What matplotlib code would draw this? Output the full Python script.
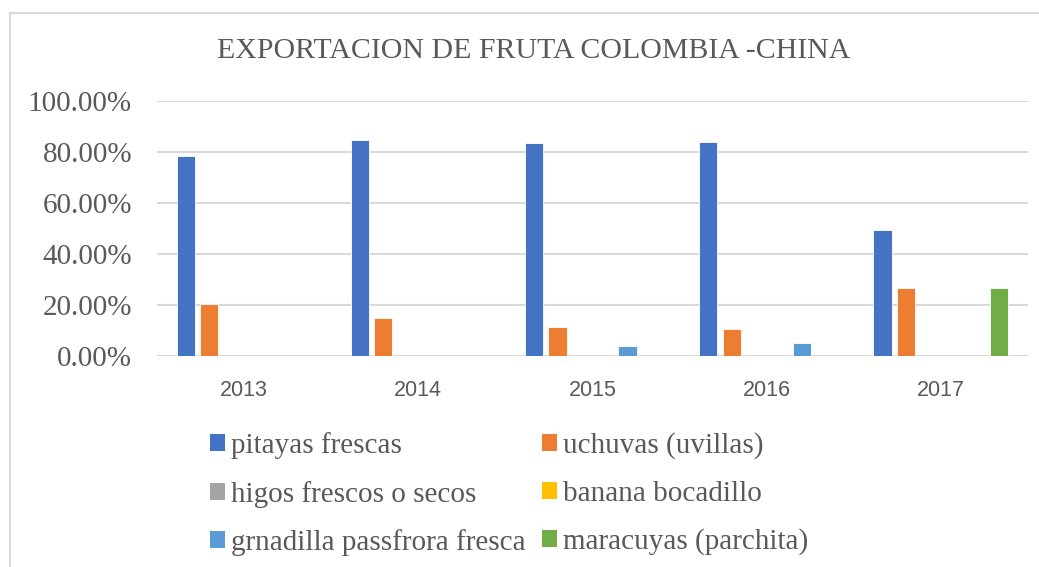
import matplotlib
matplotlib.use("Agg")
import matplotlib.pyplot as plt
from matplotlib.patches import Patch
from matplotlib.lines import Line2D
from matplotlib.ticker import FuncFormatter
import numpy as np

# datos (proporciones)
anios = ['2013', '2014', '2015', '2016', '2017']
series = ['pitayas frescas', 'uchuvas (uvillas)', 'higos frescos o secos',
          'banana bocadillo', 'grnadilla passfrora fresca', 'maracuyas (parchita)']
pitayas = [0.785, 0.847, 0.833, 0.837, 0.492]
uchuvas = [0.204, 0.149, 0.114, 0.104, 0.266]
higos = [0.0, 0.0, 0.0, 0.0, 0.0]
banana = [0.0, 0.0, 0.0, 0.0, 0.0]
granadilla = [0.0, 0.0, 0.039, 0.050, 0.0]
maracuyas = [0.0, 0.0, 0.0, 0.0, 0.266]
valores = [pitayas, uchuvas, higos, banana, granadilla, maracuyas]
colores = ['#4472C4', '#ED7D31', '#A5A5A5', '#FFC000', '#5B9BD5', '#70AD47']

gris = '#595959'
serif = 'Liberation Serif'

fig = plt.figure(figsize=(10.39, 5.67), dpi=100)
ax = fig.add_axes([157/1039, 1 - 356/567, (1028-157)/1039, (356-100.7)/567])

x = np.arange(len(anios))
paso = 0.134
ancho = 0.105
for i, (vals, col) in enumerate(zip(valores, colores)):
    ax.bar(x + (i - 2.5) * paso, vals, width=ancho, color=col,
           edgecolor='white', linewidth=0.6, zorder=3)

ax.set_xlim(-0.5, 4.5)
ax.set_ylim(0, 1.0)
ax.set_yticks(np.arange(0, 1.01, 0.2))
ax.yaxis.set_major_formatter(FuncFormatter(lambda v, p: f'{v*100:.2f}%'))
ax.grid(axis='y', color='#D9D9D9', linewidth=1.5, zorder=0)
ax.set_axisbelow(True)
for s in ax.spines.values():
    s.set_visible(False)
ax.tick_params(axis='both', length=0)
ax.tick_params(axis='y', pad=18, labelsize=21, labelcolor=gris)
ax.tick_params(axis='x', pad=17, labelsize=15.5, labelcolor=gris)
ax.set_xticks(x)
ax.set_xticklabels(anios, fontfamily='Liberation Sans')
for t in ax.get_yticklabels():
    t.set_fontfamily(serif)

fig.text(534/1039, 1 - 51/567, 'EXPORTACION DE FRUTA COLOMBIA -CHINA',
         ha='center', va='center', fontsize=21.5, color=gris, fontfamily=serif)

# leyenda (orden por filas como Excel)
handles = [Patch(facecolor=c, edgecolor='none') for c in colores]
orden = [0, 2, 4, 1, 3, 5]
leg = fig.legend([handles[i] for i in orden], [series[i] for i in orden],
                 ncol=2, loc='upper left', bbox_to_anchor=(210/1039, 1 - 432/567),
                 frameon=False, handlelength=0.52, handleheight=0.52,
                 handletextpad=0.2, columnspacing=0.55, labelspacing=0.74,
                 borderpad=0, borderaxespad=0,
                 prop={'family': serif, 'size': 21})
for t in leg.get_texts():
    t.set_color(gris)

# borde del área del gráfico
fig.add_artist(Line2D([10/1039, 10/1039], [0, 1 - 13/567], color='#D9D9D9', linewidth=1.5))
fig.add_artist(Line2D([10/1039, 1], [1 - 13/567, 1 - 13/567], color='#D9D9D9', linewidth=1.5))

fig.savefig('out.png', dpi=100)
